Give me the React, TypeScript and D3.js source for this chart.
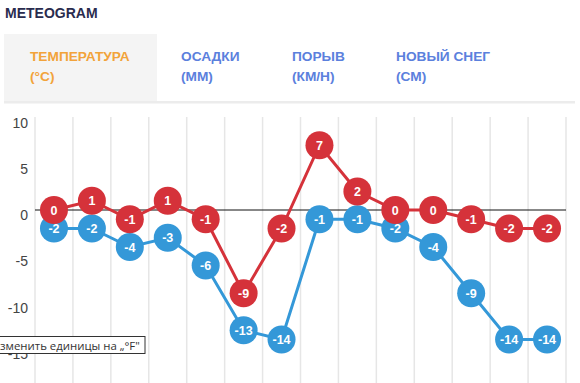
import React from "react";
import * as d3 from "d3";

const hours = ["01","02","03","04","05","06","07","08","09","10","11","12","13","14"];
const maxTemp = [0, 1, -1, 1, -1, -9, -2, 7, 2, 0, 0, -1, -2, -2];
const minTemp = [-2, -2, -4, -3, -6, -13, -14, -1, -1, -2, -4, -9, -14, -14];
const yTicks = [10, 5, 0, -5, -10, -15];
const tabs = [
  { l1: "ТЕМПЕРАТУРА", l2: "(°C)", active: true },
  { l1: "ОСАДКИ", l2: "(ММ)", active: false },
  { l1: "ПОРЫВ", l2: "(КМ/Н)", active: false },
  { l1: "НОВЫЙ СНЕГ", l2: "(СМ)", active: false },
];
const tabX = [30, 181, 292, 396];

const RED = "#d5323a";
const BLUE = "#3498d8";

export default function App() {
  const W = 580, H = 383;
  const x = d3.scaleBand<string>().domain(hours).range([35, 566]);
  const y = d3.scaleLinear().domain([-20, 10]).range([395, 117.5]);
  const line = d3.line<number>()
    .x((_, i) => (x(hours[i]) as number) + x.bandwidth() / 2)
    .y((d) => y(d));
  const gridXs = [...hours.map((h) => x(h) as number), 566];

  const series = [
    { data: minTemp, color: BLUE },
    { data: maxTemp, color: RED },
  ];

  return (
    <svg width={W} height={H} style={{ position: "absolute", left: 0, top: 0, fontFamily: "Arial, 'Liberation Sans', sans-serif" }}>
      <rect x={0} y={0} width={W} height={H} fill="#fff" />
      <text x={5} y={18} fontSize={14} fontWeight="bold" fill="#2a2c4e">METEOGRAM</text>
      <rect x={4} y={34} width={153} height={67} fill="#f4f4f4" />
      <rect x={4} y={101} width={571} height={2.5} fill="#ececec" />
      {tabs.map((t, i) => (
        <g key={i} fontSize={13.7} fontWeight="bold" fill={t.active ? "#f2a33a" : "#5b80dd"}>
          <text x={tabX[i]} y={61}>{t.l1}</text>
          <text x={tabX[i]} y={81}>{t.l2}</text>
        </g>
      ))}
      {gridXs.map((gx, i) => (
        <line key={i} x1={gx} x2={gx} y1={117} y2={H} stroke="#e6e6e6" strokeWidth={1.5} />
      ))}
      {yTicks.map((t) => (
        <text key={t} x={28} y={y(t) + 10} textAnchor="end" fontSize={14} fill="#444">{t}</text>
      ))}
      <line x1={35} x2={566} y1={y(0)} y2={y(0)} stroke="#111" strokeWidth={1} />
      {series.map((s, si) => (
        <g key={si}>
          <path d={line(s.data) || ""} fill="none" stroke={s.color} strokeWidth={3} />
          {s.data.map((v, i) => {
            const cx = (x(hours[i]) as number) + x.bandwidth() / 2;
            const cy = y(v);
            return (
              <g key={i}>
                <circle cx={cx} cy={cy} r={14} fill={s.color} />
                <text x={cx} y={cy + 4.5} textAnchor="middle" fontSize={12.5} fontWeight="bold" fill="#fff">{v}</text>
              </g>
            );
          })}
        </g>
      ))}
      <rect x={-1} y={336.5} width={146} height={17} fill="#fff" stroke="#333" strokeWidth={1} />
      <text x={-8.6} y={349.5} fontSize={11.4} fill="#333" fontFamily="'Open Sans', 'Noto Sans', sans-serif">Изменить единицы на „°F"</text>
    </svg>
  );
}
